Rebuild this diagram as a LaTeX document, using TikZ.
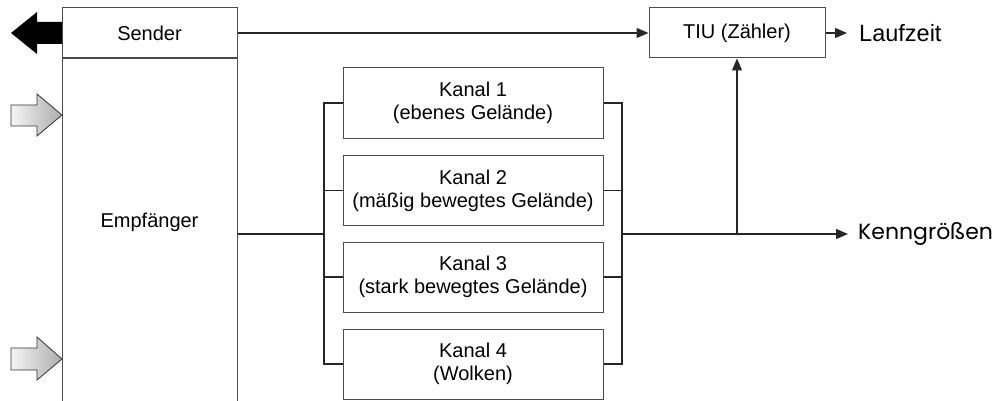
\documentclass[tikz,border=0pt]{standalone}
\usepackage{fontspec}
\setmainfont{Liberation Sans}
\newfontfamily\geofont{Poppins}
\usetikzlibrary{arrows.meta}
\begin{document}
\begin{tikzpicture}[x=1pt,y=-1pt,
  box/.style={draw=black!70,line width=1pt,inner sep=0pt,font=\fontsize{20}{23}\selectfont,align=center},
  kbox/.style={box,minimum width=260pt,minimum height=70pt},
  wire/.style={draw=black!85,line width=1.1pt},
  arr/.style={wire,-{Triangle[length=12pt,width=10pt]}},
  outtext/.style={anchor=west,inner sep=0pt,font=\fontsize{23.5}{26}\selectfont}
]
\useasboundingbox (0,0) rectangle (995,401);
% left column
\node[box,minimum width=175pt,minimum height=50pt] (sender) at (149.5,33) {Sender};
\node[box,minimum width=175pt,minimum height=362pt,anchor=north] (empf) at (149.5,58) {};
\node[inner sep=0pt,font=\fontsize{20}{23}\selectfont] (empft) at (149.5,222) {Empfänger};
% TIU
\node[box,minimum width=176pt,minimum height=50pt] (tiu) at (737,33) {TIU (Zähler)};
\node[outtext,inner xsep=12pt] (lauf) at (847,33) {Laufzeit};
% channels
\node[kbox] (k1) at (473,103) {Kanal 1\\(ebenes Gelände)};
\node[kbox] (k2) at (473,190.5) {Kanal 2\\(mäßig bewegtes Gelände)};
\node[kbox] (k3) at (473,277) {Kanal 3\\(stark bewegtes Gelände)};
\node[kbox] (k4) at (473,364) {Kanal 4\\(Wolken)};
\node[outtext,inner xsep=10pt,font=\geofont\fontsize{22}{26}\selectfont] (kenn) at (848,234) {Kenngrößen};
% coordinates
\coordinate (bl) at (324,234);
\coordinate (br) at (622,234);
\coordinate (j) at (737,234);
% wires
\draw[arr] (sender.east) -- (tiu.west);
\draw[arr] (tiu.east) -- (lauf.west);
\draw[wire] (empf.east |- bl) -- (bl);
\draw[wire] (k1.west) -- (k1.west -| bl) -- (k4.west -| bl) -- (k4.west);
\draw[wire] (k2.west) -- (k2.west -| bl);
\draw[wire] (k3.west) -- (k3.west -| bl);
\draw[wire] (k1.east) -- (k1.east -| br) -- (k4.east -| br) -- (k4.east);
\draw[wire] (k2.east) -- (k2.east -| br);
\draw[wire] (k3.east) -- (k3.east -| br);
\draw[arr] (br) -- (kenn.west);
\draw[arr] (j) -- (tiu.south);
% big arrows
\fill[black] (62,22) -- (37,22) -- (37,12) -- (11,33) -- (37,54) -- (37,44) -- (62,44) -- cycle;
\shade[left color=gray!8,right color=gray!65]
  (11,105) -- (37,105) -- (37,94) -- (62,115) -- (37,136) -- (37,126) -- (11,126) -- cycle;
\shade[left color=gray!8,right color=gray!65]
  (11,348) -- (37,348) -- (37,337) -- (62,359) -- (37,380) -- (37,370) -- (11,370) -- cycle;
\draw[black!80,line width=0.8pt] (11,105) -- (37,105) -- (37,94) -- (62,115) -- (37,136) -- (37,126) -- (11,126) -- cycle;
\draw[black!80,line width=0.8pt] (11,348) -- (37,348) -- (37,337) -- (62,359) -- (37,380) -- (37,370) -- (11,370) -- cycle;
\end{tikzpicture}
\end{document}
